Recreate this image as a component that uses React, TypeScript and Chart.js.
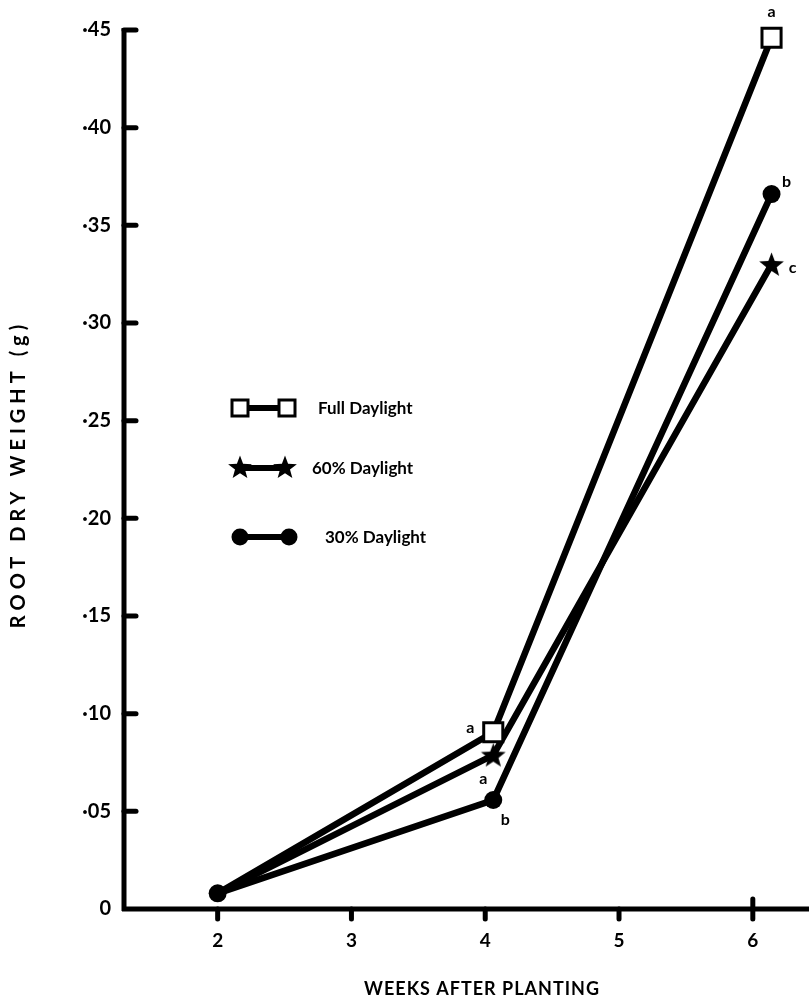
import React, { useEffect, useRef } from "react";
import { Chart, registerables } from "chart.js";

Chart.register(...registerables);

// ---- data ----
const seriesNames = ["Full Daylight", "60% Daylight", "30% Daylight"];
const weeks = [2, 4.06, 6.14]; // plotted x positions of the sampling points
const fullDaylight = [0.008, 0.0905, 0.446];
const sixtyDaylight = [0.008, 0.0788, 0.330];
const thirtyDaylight = [0.008, 0.0558, 0.366];
const fullLetters = ["", "a", "a"];
const sixtyLetters = ["", "a", "c"];
const thirtyLetters = ["", "b", "b"];
const xTicks = [2, 3, 4, 5, 6];
const xTickLabels = ["2", "3", "4", "5", "6"];
const yTicks = [0, 0.05, 0.1, 0.15, 0.2, 0.25, 0.3, 0.35, 0.4, 0.45];
const yTickLabels = ["0", "·05", "·10", "·15", "·20", "·25", "·30", "·35", "·40", "·45"];
const yTitle = "ROOT DRY WEIGHT (g)";
const xTitle = "WEEKS AFTER PLANTING";

const FONT = "Lato, 'Open Sans', 'DejaVu Sans', sans-serif";

function makeStar(size: number): HTMLCanvasElement {
  const c = document.createElement("canvas");
  c.width = size;
  c.height = size;
  const ctx = c.getContext("2d")!;
  const cx = size / 2, cy = size / 2 + 1;
  const R = size / 2 - 0.5, r = R * 0.42;
  ctx.beginPath();
  for (let i = 0; i < 10; i++) {
    const a = -Math.PI / 2 + (i * Math.PI) / 5;
    const rad = i % 2 === 0 ? R : r;
    const px = cx + rad * Math.cos(a);
    const py = cy + rad * Math.sin(a);
    if (i === 0) ctx.moveTo(px, py);
    else ctx.lineTo(px, py);
  }
  ctx.closePath();
  ctx.fillStyle = "#000";
  ctx.fill();
  return c;
}

export default function App() {
  const ref = useRef<HTMLCanvasElement | null>(null);

  useEffect(() => {
    document.body.style.margin = "0";
    const canvas = ref.current!;
    const star = makeStar(27);
    const legendStar = makeStar(26);

    // letter offsets (style), per dataset per point
    const letterOffsets = [
      [[0, 0], [-23, -4], [0, -26]],
      [[0, 0], [-10, 24], [21, 3]],
      [[0, 0], [12, 20], [15, -12]],
    ];
    const letters = [fullLetters, sixtyLetters, thirtyLetters];

    const axesPlugin = {
      id: "handAxes",
      afterDatasetsDraw(chart: any) {
        const { ctx, chartArea, scales } = chart;
        const x = scales.x, y = scales.y;
        ctx.save();
        ctx.strokeStyle = "#000";
        ctx.fillStyle = "#000";
        ctx.lineCap = "butt";
        // left axis
        ctx.lineWidth = 5;
        ctx.beginPath();
        ctx.moveTo(chartArea.left, y.getPixelForValue(0.45) - 2);
        ctx.lineTo(chartArea.left, chartArea.bottom + 2);
        ctx.stroke();
        // bottom axis
        ctx.beginPath();
        ctx.moveTo(chartArea.left - 2, chartArea.bottom);
        ctx.lineTo(chartArea.right, chartArea.bottom);
        ctx.stroke();
        // y ticks (inward)
        ctx.lineWidth = 5;
        ctx.lineCap = "round";
        for (const v of yTicks) {
          if (v === 0) continue;
          const py = y.getPixelForValue(v);
          ctx.beginPath();
          ctx.moveTo(chartArea.left, py);
          ctx.lineTo(chartArea.left + 12, py);
          ctx.stroke();
        }
        // x ticks (outward)
        for (const v of xTicks) {
          const px = x.getPixelForValue(v);
          ctx.beginPath();
          ctx.moveTo(px, chartArea.bottom + (v === 6 ? -10 : 0));
          ctx.lineTo(px, chartArea.bottom + 10);
          ctx.stroke();
        }
        // significance letters
        ctx.font = `bold 16px ${FONT}`;
        ctx.textAlign = "center";
        ctx.textBaseline = "middle";
        chart.data.datasets.forEach((_: any, di: number) => {
          const meta = chart.getDatasetMeta(di);
          meta.data.forEach((pt: any, pi: number) => {
            const t = letters[di][pi];
            if (!t) return;
            const [dx, dy] = letterOffsets[di][pi];
            ctx.fillText(t, pt.x + dx, pt.y + dy);
          });
        });
        // legend
        const rows = [
          { y: 408, x1: 240, x2: 287, tx: 318 },
          { y: 468, x1: 240, x2: 285, tx: 312 },
          { y: 537, x1: 240, x2: 289, tx: 325 },
        ];
        ctx.font = `bold 17px ${FONT}`;
        ctx.textAlign = "left";
        rows.forEach((r, i) => {
          ctx.lineWidth = 6;
          ctx.lineCap = "round";
          ctx.beginPath();
          ctx.moveTo(r.x1, r.y);
          ctx.lineTo(r.x2, r.y);
          ctx.stroke();
          if (i === 0) {
            for (const cx of [r.x1, r.x2]) {
              ctx.fillStyle = "#fff";
              ctx.fillRect(cx - 8, r.y - 8, 16, 16);
              ctx.lineWidth = 3;
              ctx.strokeRect(cx - 8, r.y - 8, 16, 16);
            }
          } else if (i === 1) {
            for (const cx of [r.x1, r.x2]) {
              ctx.drawImage(legendStar, cx - 13, r.y - 14);
            }
          } else {
            for (const cx of [r.x1, r.x2]) {
              ctx.fillStyle = "#000";
              ctx.beginPath();
              ctx.arc(cx, r.y, 8.5, 0, Math.PI * 2);
              ctx.fill();
            }
          }
          ctx.fillStyle = "#000";
          ctx.fillText(seriesNames[i], r.tx, r.y + 1);
        });
        // y axis title, widely spaced like the original
        ctx.save();
        ctx.translate(19, 474);
        ctx.rotate(-Math.PI / 2);
        ctx.font = `bold 20px ${FONT}`;
        (ctx as any).letterSpacing = "5px";
        ctx.textAlign = "center";
        ctx.textBaseline = "middle";
        ctx.fillText(yTitle, 0, 0);
        ctx.restore();
        // x axis title
        ctx.font = `bold 18px ${FONT}`;
        (ctx as any).letterSpacing = "1px";
        ctx.textAlign = "center";
        ctx.textBaseline = "middle";
        ctx.fillText(xTitle, 482, 989);
        ctx.restore();
      },
    };

    const toPts = (vals: number[]) => vals.map((v, i) => ({ x: weeks[i], y: v }));

    const chart = new Chart(canvas, {
      type: "line",
      data: {
        datasets: [
          {
            label: seriesNames[0],
            data: toPts(fullDaylight),
            borderColor: "#000",
            borderWidth: 6.5,
            borderCapStyle: "round",
            clip: false,
            pointStyle: "rect",
            pointRadius: [0, 13.5, 13.5],
            pointBackgroundColor: "#fff",
            pointBorderColor: "#000",
            pointBorderWidth: 3,
          },
          {
            label: seriesNames[1],
            data: toPts(sixtyDaylight),
            borderColor: "#000",
            borderWidth: 6.5,
            borderCapStyle: "round",
            clip: false,
            pointStyle: [star, star, star] as any,
            pointRadius: [0, 13, 13],
            pointBackgroundColor: "#000",
            pointBorderColor: "#000",
          },
          {
            label: seriesNames[2],
            data: toPts(thirtyDaylight),
            borderColor: "#000",
            borderWidth: 6.5,
            borderCapStyle: "round",
            clip: false,
            pointStyle: "circle",
            pointRadius: 9,
            pointBackgroundColor: "#000",
            pointBorderColor: "#000",
            pointBorderWidth: 0,
          },
        ],
      },
      options: {
        responsive: false,
        animation: false,
        layout: { autoPadding: false, padding: { top: 30, right: 0, left: 0, bottom: 0 } },
        plugins: { legend: { display: false }, tooltip: { enabled: false } },
        elements: { line: { tension: 0 } },
        scales: {
          x: {
            type: "linear",
            min: 1.3,
            max: 6.42,
            grid: { display: false, drawTicks: false },
            border: { display: false },
            afterBuildTicks: (s: any) => {
              s.ticks = xTicks.map((v) => ({ value: v }));
            },
            afterFit: (s: any) => {
              s.height = 96;
            },
            ticks: {
              color: "#000",
              font: { family: FONT, size: 19, weight: "bold" },
              padding: 20,
              autoSkip: false,
              maxRotation: 0,
              callback: (v: any) => {
                const i = xTicks.indexOf(Number(v));
                return i >= 0 ? xTickLabels[i] : "";
              },
            },
          },
          y: {
            type: "linear",
            min: 0,
            max: 0.45,
            grid: { display: false, drawTicks: false },
            border: { display: false },
            afterBuildTicks: (s: any) => {
              s.ticks = yTicks.map((v) => ({ value: v }));
            },
            afterFit: (s: any) => {
              s.width = 124;
            },
            ticks: {
              color: "#000",
              font: { family: FONT, size: 20, weight: "bold" },
              padding: 13,
              autoSkip: false,
              callback: (v: any) => {
                const i = yTicks.findIndex((t) => Math.abs(t - Number(v)) < 1e-9);
                return i >= 0 ? yTickLabels[i] : "";
              },
            },
          },
        },
      },
      plugins: [axesPlugin],
    } as any);

    return () => chart.destroy();
  }, []);

  return (
    <canvas
      ref={ref}
      width={809}
      height={1005}
      style={{ display: "block", width: 809, height: 1005, background: "#fff" }}
    />
  );
}
